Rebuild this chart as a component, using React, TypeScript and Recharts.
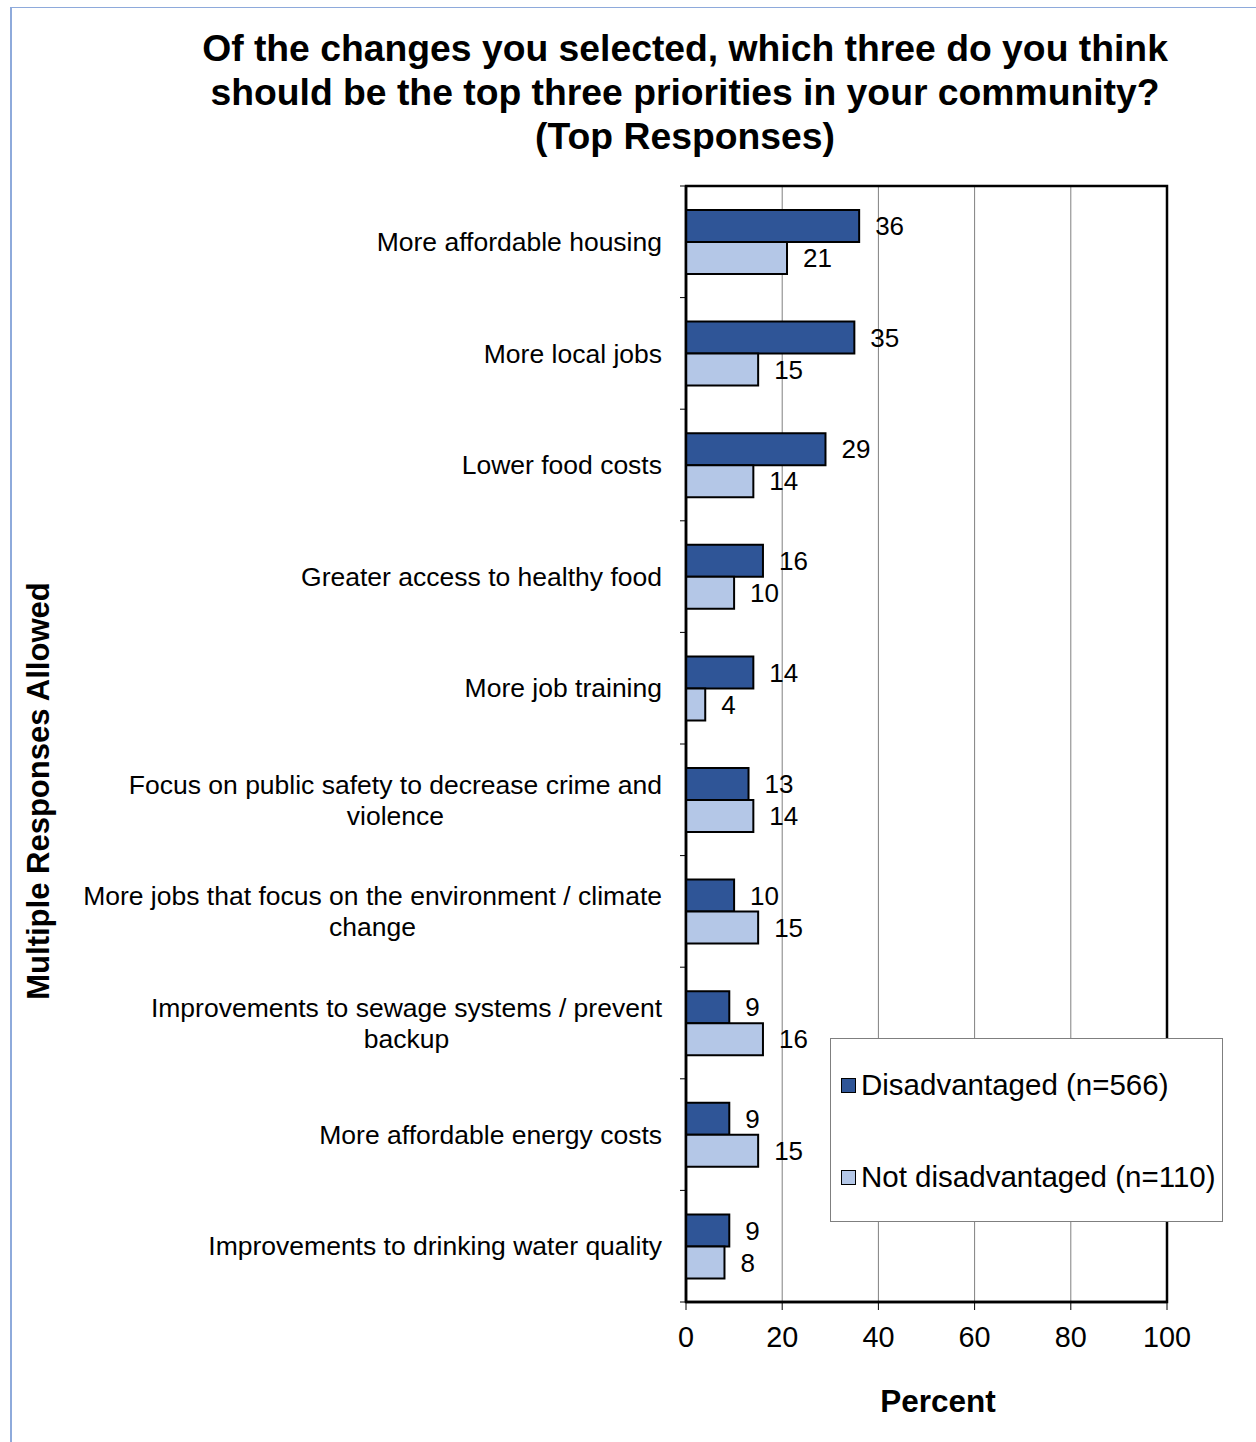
import * as React from "react";
import {
    Bar,
    BarChart,
    CartesianGrid,
    LabelList,
    ReferenceArea,
    XAxis,
    YAxis,
} from "recharts";

const FONT = '"Liberation Sans", Arial, sans-serif';

/* ---------- data ---------- */
const categories = [
    "More affordable housing",
    "More local jobs",
    "Lower food costs",
    "Greater access to healthy food",
    "More job training",
    "Focus on public safety to decrease crime and\nviolence",
    "More jobs that focus on the environment / climate\nchange",
    "Improvements to sewage systems / prevent\nbackup",
    "More affordable energy costs",
    "Improvements to drinking water quality",
];
const disadvantaged = [36, 35, 29, 16, 14, 13, 10, 9, 9, 9];
const notDisadvantaged = [21, 15, 14, 10, 4, 14, 15, 16, 15, 8];
const xTicks = [0, 20, 40, 60, 80, 100];

const series = [
    { key: "dis", name: "Disadvantaged (n=566)", color: "#2F5597" },
    { key: "notDis", name: "Not disadvantaged (n=110)", color: "#B4C7E7" },
];

const data = categories.map((label, i) => ({
    label,
    dis: disadvantaged[i],
    notDis: notDisadvantaged[i],
}));

const W = 1256;
const H = 1442;
const M = { top: 186, right: 89, bottom: 70, left: 86 };
const X_AXIS_H = 70;
const BAND = (H - M.top - M.bottom - X_AXIS_H) / categories.length;

/* ---------- ticks ---------- */
let measureCtx: CanvasRenderingContext2D | null = null;
function textWidth(s: string, size: number) {
    if (!measureCtx) measureCtx = document.createElement("canvas").getContext("2d");
    if (!measureCtx) return s.length * size * 0.5;
    measureCtx.font = `${size}px ${FONT}`;
    return measureCtx.measureText(s).width;
}

function CategoryTick({ x, y, payload, index }: any) {
    const size = 26.5;
    const lines = String(payload.value).split("\n");
    const axisX = x + 24;
    // excel-style tick marks on category boundaries
    const marks = [y - BAND / 2];
    if (index === categories.length - 1) marks.push(y + BAND / 2);
    const tickMarks = marks.map((my, i) => (
        <line key={i} x1={axisX - 6} x2={axisX} y1={my} y2={my} stroke="#000" strokeWidth={1} />
    ));
    if (lines.length === 1) {
        return (
            <g>
                {tickMarks}
                <text x={x} y={y} dy="0.35em" textAnchor="end" fontSize={size} fontFamily={FONT} fill="#000">
                    {lines[0]}
                </text>
            </g>
        );
    }
    const cx = x - textWidth(lines[0], size) / 2;
    const lh = 31;
    const start = y - ((lines.length - 1) * lh) / 2;
    return (
        <g>
            {tickMarks}
            <text textAnchor="middle" fontSize={size} fontFamily={FONT} fill="#000">
                {lines.map((l, i) => (
                    <tspan key={i} x={cx} y={start + i * lh} dy="0.35em">
                        {l}
                    </tspan>
                ))}
            </text>
        </g>
    );
}

function LegendBox() {
    return (
        <div
            style={{
                position: "absolute",
                left: 830,
                top: 1038,
                width: 393,
                height: 184,
                border: "1px solid #7f7f7f",
                background: "#fff",
                boxSizing: "border-box",
                fontFamily: FONT,
            }}
        >
            {series.map((s, i) => (
                <div
                    key={s.key}
                    style={{
                        position: "absolute",
                        left: 10,
                        top: 46 + i * 92 - 17,
                        height: 34,
                        display: "flex",
                        alignItems: "center",
                        whiteSpace: "nowrap",
                    }}
                >
                    <span
                        style={{
                            width: 13,
                            height: 13,
                            background: s.color,
                            border: "1.5px solid #000",
                            marginRight: 5,
                            display: "inline-block",
                        }}
                    />
                    <span style={{ fontSize: 29.5, color: "#000" }}>{s.name}</span>
                </div>
            ))}
        </div>
    );
}

export default function App() {
    return (
        <div style={{ position: "absolute", left: 0, top: 0, width: W, height: H, background: "#fff" }}>
            <div
                style={{
                    position: "absolute",
                    left: 10,
                    top: 7,
                    right: 0,
                    bottom: 0,
                    borderLeft: "2px solid #8EAADB",
                    borderTop: "1.5px solid #8EAADB",
                }}
            />
            <BarChart
                width={W}
                height={H}
                data={data}
                layout="vertical"
                margin={M}
                barSize={32}
                barGap={0}
                style={{ position: "absolute", left: 0, top: 0 }}
            >
                <CartesianGrid vertical horizontal={false} stroke="#808080" strokeWidth={1} />
                <XAxis
                    type="number"
                    domain={[0, 100]}
                    ticks={xTicks}
                    interval={0}
                    tickSize={8}
                    tickMargin={17}
                    height={X_AXIS_H}
                    axisLine={{ stroke: "#000", strokeWidth: 2.5 }}
                    tickLine={{ stroke: "#000", strokeWidth: 1 }}
                    tick={{ fontSize: 28.8, fontFamily: FONT, fill: "#000" }}
                />
                <YAxis
                    type="category"
                    dataKey="label"
                    width={600}
                    interval={0}
                    tickSize={0}
                    tickMargin={24}
                    tickLine={false}
                    axisLine={{ stroke: "#000", strokeWidth: 2.5 }}
                    tick={<CategoryTick />}
                />
                {series.map((s) => (
                    <Bar
                        key={s.key}
                        dataKey={s.key}
                        name={s.name}
                        fill={s.color}
                        stroke="#000"
                        strokeWidth={2}
                        isAnimationActive={false}
                    >
                        <LabelList
                            dataKey={s.key}
                            position="right"
                            offset={16}
                            fill="#000"
                            fontSize={26}
                            fontFamily={FONT}
                        />
                    </Bar>
                ))}
                <ReferenceArea x1={0} x2={100} fill="none" stroke="#000" strokeWidth={2.5} />
                <text textAnchor="middle" fontFamily={FONT} fontWeight="bold" fontSize={37.3} fill="#000">
                    <tspan x={685} y={61}>Of the changes you selected, which three do you think</tspan>
                    <tspan x={685} y={105}>should be the top three priorities in your community?</tspan>
                    <tspan x={685} y={149}>(Top Responses)</tspan>
                </text>
                <text
                    x={38}
                    y={791}
                    transform="rotate(-90 38 791)"
                    textAnchor="middle"
                    dominantBaseline="central"
                    fontFamily={FONT}
                    fontWeight="bold"
                    fontSize={31}
                    fill="#000"
                >
                    Multiple Responses Allowed
                </text>
                <text x={938} y={1412} textAnchor="middle" fontFamily={FONT} fontWeight="bold" fontSize={31.5} fill="#000">
                    Percent
                </text>
            </BarChart>
            <LegendBox />
        </div>
    );
}
